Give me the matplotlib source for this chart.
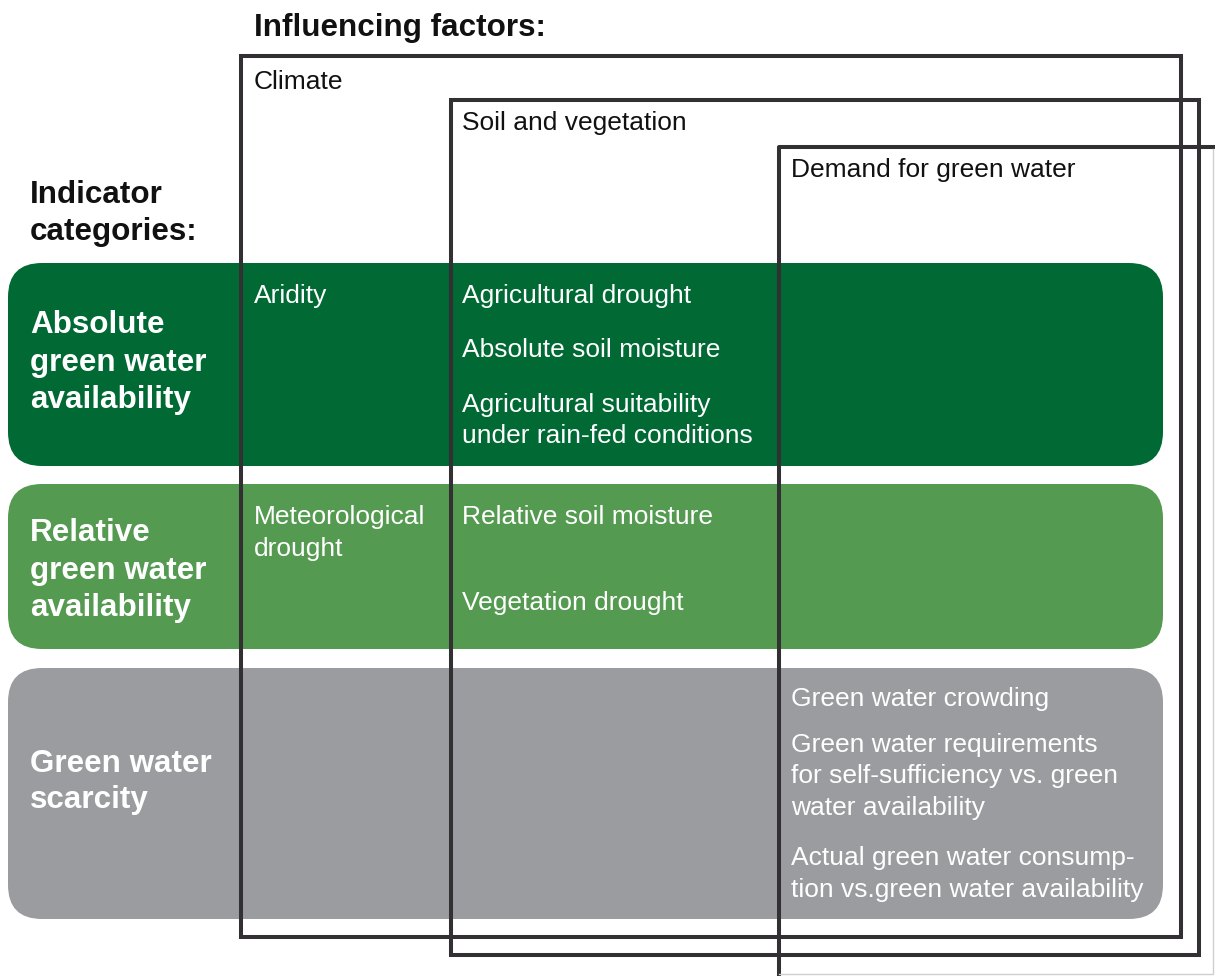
import matplotlib.pyplot as plt
from matplotlib.patches import FancyBboxPatch, Rectangle

plt.rcParams['font.family'] = ['Liberation Sans', 'DejaVu Sans']

# --- content ---
factor_names = ["Climate", "Soil and vegetation", "Demand for green water"]
category_names = ["Absolute\ngreen water\navailability",
                  "Relative\ngreen water\navailability",
                  "Green water\nscarcity"]
climate_items = [["Aridity"], ["Meteorological\ndrought"], []]
soil_items = [["Agricultural drought", "Absolute soil moisture",
               "Agricultural suitability\nunder rain-fed conditions"],
              ["Relative soil moisture", "Vegetation drought"],
              []]
demand_items = [[], [],
                ["Green water crowding",
                 "Green water requirements\nfor self-sufficiency vs. green\nwater availability",
                 "Actual green water consump-\ntion vs.green water availability"]]

# --- layout (pixel coordinates, y down) ---
W, H = 1215, 976
band_colors = ["#006934", "#549a50", "#9b9c9f"]
band_y = [(263, 466), (484, 649), (668, 919)]
band_x = (8, 1163)
box_edges = [(241, 56, 1181, 937), (451, 100, 1199, 955)]
demand_box = (779, 147, 1213, 974)
factor_label_y = [89, 130, 177]
cat_baselines = [[333, 371, 408], [541, 579, 616], [772, 808]]
climate_baselines = [[303], [524, 556], []]
soil_baselines = [[303, 357, 412, 443], [524, 610], []]
demand_baselines = [[], [], [706, 752, 783, 815, 865, 897]]

line_col = "#333033"
fs_bold = 22.6
fs_norm = 19

fig = plt.figure(figsize=(W / 100, H / 100), dpi=100)
ax = fig.add_axes([0, 0, 1, 1])
ax.set_xlim(0, W)
ax.set_ylim(H, 0)
ax.axis('off')

# coloured category bands
for (y0, y1), col in zip(band_y, band_colors):
    ax.add_patch(FancyBboxPatch((band_x[0], y0), band_x[1] - band_x[0], y1 - y0,
                                boxstyle="round,pad=0,rounding_size=34",
                                fc=col, ec='none', zorder=1))

# factor boxes drawn over the bands
for x0, y0, x1, y1 in box_edges:
    ax.add_patch(Rectangle((x0, y0), x1 - x0, y1 - y0, fill=False,
                           ec=line_col, lw=2.9, zorder=2))

# the demand box runs off the page: only left/top edges fully visible
dx0, dy0, dx1, dy1 = demand_box
ax.plot([dx0, dx0, dx1 + 3], [H + 5, dy0, dy0], color=line_col, lw=2.9,
        solid_capstyle='projecting', zorder=2)
ax.plot([dx1, dx1, dx0], [dy0 + 2, dy1, dy1], color='#cfcfcf', lw=1.0, zorder=2)

ax.text(254, 36, "Influencing factors:", fontsize=fs_bold, fontweight='bold',
        va='baseline', color='#111111')
ax.text(30, 203, "Indicator", fontsize=fs_bold, fontweight='bold',
        va='baseline', color='#111111')
ax.text(30, 240, "categories:", fontsize=fs_bold, fontweight='bold',
        va='baseline', color='#111111')

factor_x = [254, 462, 791]
for name, x, y in zip(factor_names, factor_x, factor_label_y):
    ax.text(x, y, name, fontsize=fs_norm, va='baseline', color='#111111', zorder=3)


def put_lines(x, items, baselines, bold=False):
    lines = [ln for it in items for ln in it.split("\n")]
    for ln, y in zip(lines, baselines):
        ax.text(x, y, ln, fontsize=fs_bold if bold else fs_norm,
                fontweight='bold' if bold else 'normal',
                va='baseline', color='white', zorder=3)


for i in range(3):
    put_lines(30, [category_names[i]], cat_baselines[i], bold=True)
    put_lines(254, climate_items[i], climate_baselines[i])
    put_lines(462, soil_items[i], soil_baselines[i])
    put_lines(791, demand_items[i], demand_baselines[i])

fig.savefig("out.png", dpi=100, facecolor='white')
